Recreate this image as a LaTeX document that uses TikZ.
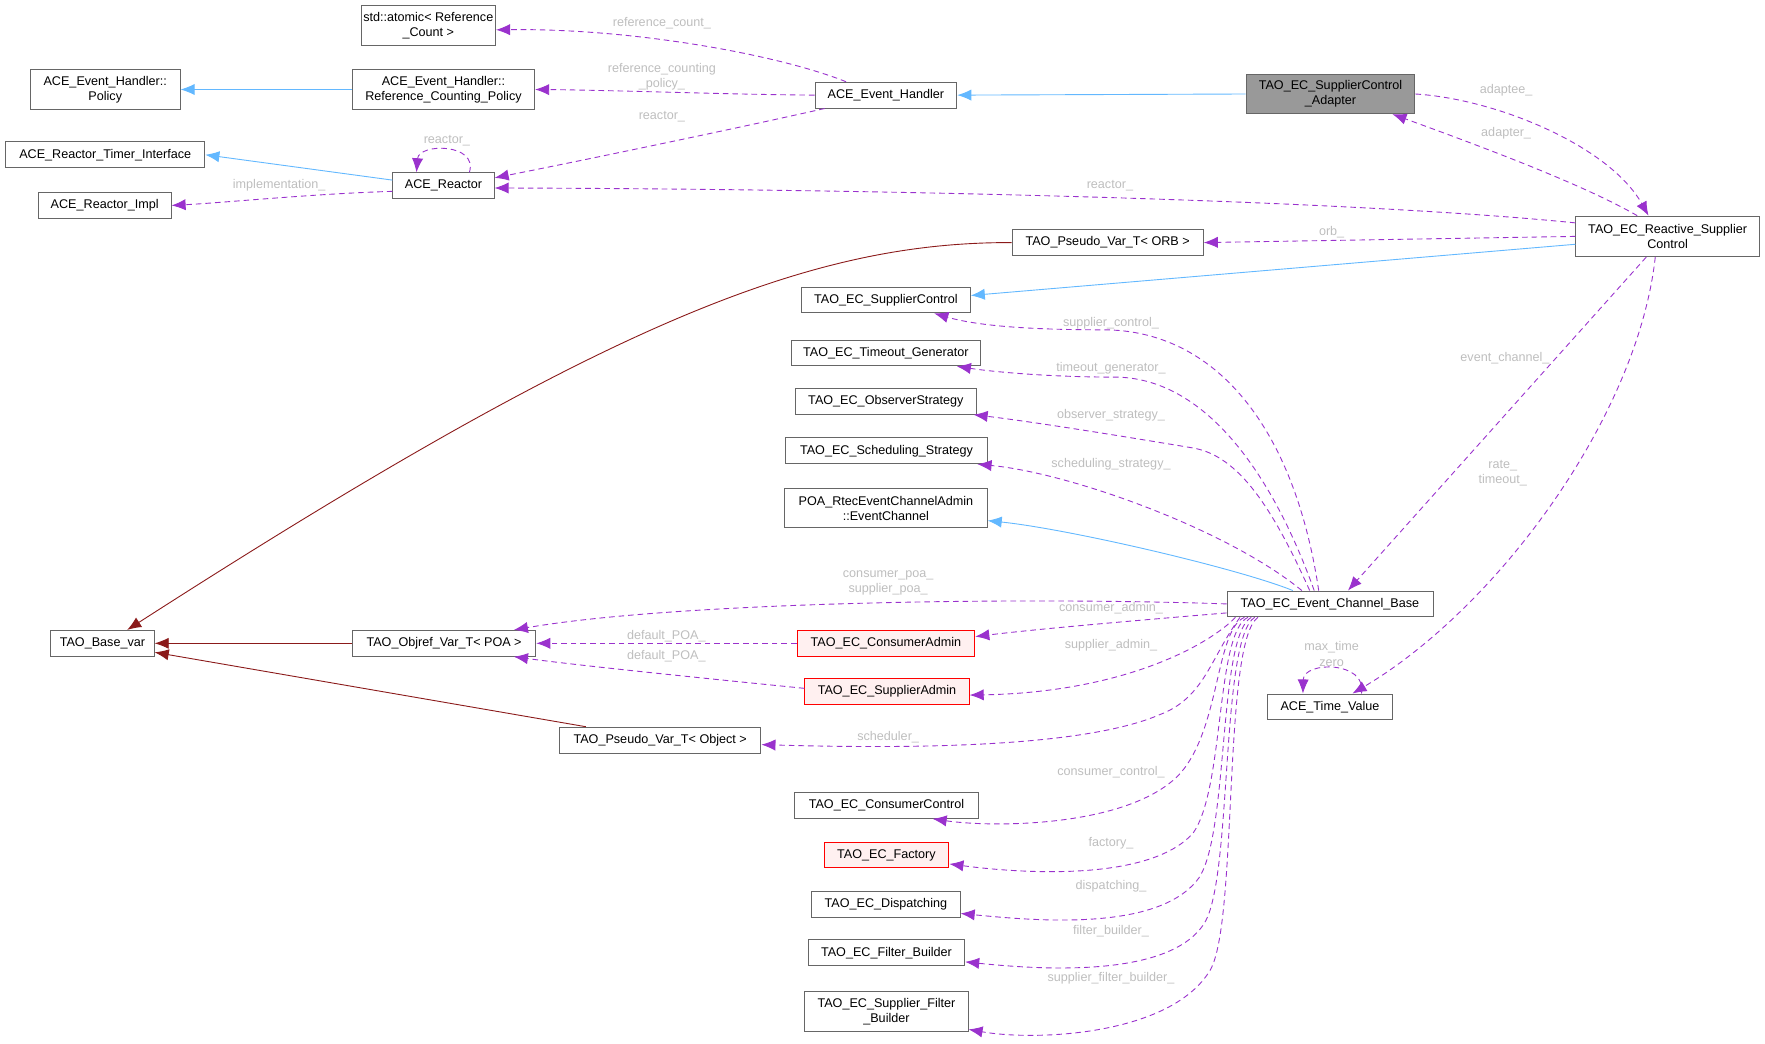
\documentclass[tikz,border=0pt]{standalone}
\usepackage{fontspec}
\setmainfont{Liberation Sans}
\usepackage{tikz}
\usetikzlibrary{arrows.meta}

\definecolor{inhblue}{RGB}{99,184,255}
\definecolor{usepurple}{RGB}{154,50,205}
\definecolor{tmplred}{RGB}{139,26,26}
\definecolor{boxgray}{RGB}{102,102,102}
\definecolor{lblgray}{RGB}{190,190,190}
\definecolor{hotfill}{RGB}{153,153,153}
\definecolor{redfill}{RGB}{255,240,240}

\begin{document}
\begin{tikzpicture}[x=1pt,y=-1pt,->,>={Latex[length=12.5pt,width=10pt]},line width=0.8pt,
    font=\fontsize{11.2}{13.5}\selectfont]
    \tikzstyle{cls}=[draw=boxgray, fill=white, rectangle, align=center, inner sep=2pt, minimum height=23pt]
    \tikzstyle{redcls}=[cls, draw=red, fill=redfill]
    \tikzstyle{inherit}=[draw=inhblue]
    \tikzstyle{tmpl}=[draw=tmplred]
    \tikzstyle{member}=[draw=usepurple, dash pattern=on 5pt off 3.5pt]
    \tikzstyle{lbl}=[text=lblgray, align=center, inner sep=1pt]
    \useasboundingbox (0,0) rectangle (1568,927);

    % classes
    \node[cls, minimum width=113pt, minimum height=35pt] (atomic) at (380.5,22.5) {std::atomic< Reference\\\_Count >};
    \node[cls, minimum width=133pt, minimum height=35pt] (policy) at (93.5,79.5) {ACE\_Event\_Handler::\\Policy};
    \node[cls, minimum width=162pt, minimum height=35pt] (rcpolicy) at (394,79.5) {ACE\_Event\_Handler::\\Reference\_Counting\_Policy};
    \node[cls, minimum width=177pt] (timer) at (93.5,137.5) {ACE\_Reactor\_Timer\_Interface};
    \node[cls, minimum width=90pt] (reactor) at (394,165) {ACE\_Reactor};
    \node[cls, minimum width=118pt] (impl) at (93,182.5) {ACE\_Reactor\_Impl};
    \node[cls, minimum width=126pt] (handler) at (787,84.5) {ACE\_Event\_Handler};
    \node[cls, fill=hotfill, minimum width=150pt, minimum height=35pt] (adapter) at (1182,83.5) {TAO\_EC\_SupplierControl\\\_Adapter};
    \node[cls, minimum width=163pt, minimum height=36pt] (reactive) at (1481.5,210) {TAO\_EC\_Reactive\_Supplier\\Control};
    \node[cls, minimum width=170pt] (orb) at (984,215.5) {TAO\_Pseudo\_Var\_T< ORB >};
    \node[cls, minimum width=150pt] (supctl) at (787,266.5) {TAO\_EC\_SupplierControl};
    \node[cls, minimum width=168pt] (timeout) at (787,313.5) {TAO\_EC\_Timeout\_Generator};
    \node[cls, minimum width=161pt] (observer) at (787,356.5) {TAO\_EC\_ObserverStrategy};
    \node[cls, minimum width=179pt] (sched) at (787.5,400.5) {TAO\_EC\_Scheduling\_Strategy};
    \node[cls, minimum width=180pt, minimum height=35pt] (poa) at (787,451.5) {POA\_RtecEventChannelAdmin\\::EventChannel};
    \node[cls, minimum width=183pt] (ecbase) at (1181.5,536.5) {TAO\_EC\_Event\_Channel\_Base};
    \node[cls, minimum width=92pt] (basevar) at (91,571.5) {TAO\_Base\_var};
    \node[cls, minimum width=163pt] (objref) at (394.5,571.5) {TAO\_Objref\_Var\_T< POA >};
    \node[redcls, minimum width=158pt] (cadmin) at (787,571.5) {TAO\_EC\_ConsumerAdmin};
    \node[redcls, minimum width=146pt] (sadmin) at (788,614.5) {TAO\_EC\_SupplierAdmin};
    \node[cls, minimum width=179pt] (pseudoobj) at (586.5,657.5) {TAO\_Pseudo\_Var\_T< Object >};
    \node[cls, minimum width=111pt] (timevalue) at (1181.5,628) {ACE\_Time\_Value};
    \node[cls, minimum width=163pt] (cctl) at (787.5,715.5) {TAO\_EC\_ConsumerControl};
    \node[redcls, minimum width=111pt] (factory) at (787.5,759.5) {TAO\_EC\_Factory};
    \node[cls, minimum width=132pt] (dispatch) at (787,803.5) {TAO\_EC\_Dispatching};
    \node[cls, minimum width=139pt] (filter) at (787.5,846.5) {TAO\_EC\_Filter\_Builder};
    \node[cls, minimum width=145pt, minimum height=35pt] (sfilter) at (787.5,898.5) {TAO\_EC\_Supplier\_Filter\\\_Builder};

    % inheritance
    \draw[inherit] (rcpolicy) -- (policy);
    \draw[inherit] ([yshift=5pt]reactor.west) -- (timer.east);
    \draw[inherit] (adapter.west) -- (handler.east);
    \draw[inherit] ([yshift=-7pt]reactive.west) -- ([yshift=4pt]supctl.east);
    \draw[inherit] ([xshift=-33pt]ecbase.north) .. controls (1100,505) and (950,470) .. ([yshift=-11pt]poa.east);

    % template instances
    \draw[tmpl] (orb.west) .. controls (720,215) and (540,285) .. ([xshift=22pt]basevar.north);
    \draw[tmpl] (objref) -- (basevar);
    \draw[tmpl] ([xshift=-66pt]pseudoobj.north) -- ([yshift=-8pt]basevar.east);

    % members
    \draw[member] ([xshift=28pt]handler.north west) .. controls (690,48) and (560,25) .. ([yshift=-4pt]atomic.east);
    \draw[member] (handler.west) .. controls (650,84) and (540,80) .. (rcpolicy.east);
    \draw[member] ([xshift=9pt]handler.south west) .. controls (650,115) and (520,142) .. ([yshift=7pt]reactor.east);
    \draw[member] ([xshift=23pt]reactor.north) .. controls (425,127) and (372,127) .. ([xshift=-24pt]reactor.north);
    \draw[member] ([yshift=-5pt]reactor.west) .. controls (280,172) and (200,180) .. (impl.east);
    \draw[member] ([yshift=12pt]reactive.west) .. controls (1200,178) and (800,168) .. ([yshift=-2pt]reactor.east);
    \draw[member] (reactive.west) -- (orb.east);
    \draw[member] (adapter.east) .. controls (1330,88) and (1430,130) .. ([xshift=-17pt]reactive.north);
    \draw[member] ([xshift=-27pt]reactive.north) .. controls (1405,163) and (1310,128) .. ([xshift=55pt]adapter.south);
    \draw[member] ([xshift=-19pt]reactive.south) -- ([xshift=16pt]ecbase.north);
    \draw[member] ([xshift=-11pt]reactive.south) .. controls (1455,370) and (1330,540) .. ([xshift=20pt]timevalue.north);
    \draw[member] ([xshift=28pt]timevalue.north) .. controls (1215,587) and (1158,587) .. ([xshift=-24pt]timevalue.north);

    \draw[member] ([xshift=-10pt]ecbase.north) .. controls (1150,380) and (1080,293) .. (980,293) .. controls (920,293) and (870,290) .. ([xshift=43pt]supctl.south);
    \draw[member] ([xshift=-14pt]ecbase.north) .. controls (1130,420) and (1070,335) .. (990,335) .. controls (930,335) and (880,330) .. ([xshift=63pt]timeout.south);
    \draw[member] ([xshift=-18pt]ecbase.north) .. controls (1130,450) and (1100,405) .. (1060,398) .. controls (1000,388) and (920,375) .. ([xshift=-3pt]observer.south east);
    \draw[member] ([xshift=-25pt]ecbase.north) .. controls (1090,470) and (950,420) .. ([xshift=-9pt]sched.south east);
    \draw[member] (ecbase.west) .. controls (900,530) and (600,535) .. ([xshift=62pt]objref.north);
    \draw[member] ([yshift=-8pt]ecbase.west) .. controls (1000,552) and (920,559) .. ([yshift=6pt]cadmin.east);
    \draw[member] (cadmin) -- (objref);
    \draw[member] ([yshift=3pt]sadmin.west) .. controls (650,605) and (520,592) .. ([xshift=62pt]objref.south);
    \draw[member] ([xshift=8pt]ecbase.south west) .. controls (1075,572) and (1000,615) .. ([yshift=-3pt]sadmin.east);
    \draw[member] ([xshift=12pt]ecbase.south west) .. controls (1075,585) and (1070,620) .. (1030,635) .. controls (960,665) and (800,665) .. ([yshift=-4pt]pseudoobj.east);
    \draw[member] ([xshift=16pt]ecbase.south west) .. controls (1078,560) and (1085,660) .. (1040,695) .. controls (990,735) and (880,735) .. ([xshift=41pt]cctl.south);
    \draw[member] ([xshift=19pt]ecbase.south west) .. controls (1080,562) and (1088,700) .. (1060,740) .. controls (1020,785) and (900,775) .. ([yshift=-8pt]factory.east);
    \draw[member] ([xshift=22pt]ecbase.south west) .. controls (1082,565) and (1092,740) .. (1065,780) .. controls (1030,828) and (920,818) .. ([yshift=-8pt]dispatch.east);
    \draw[member] ([xshift=25pt]ecbase.south west) .. controls (1084,568) and (1095,780) .. (1070,820) .. controls (1040,868) and (930,862) .. ([yshift=-8pt]filter.east);
    \draw[member] ([xshift=28pt]ecbase.south west) .. controls (1086,570) and (1100,820) .. (1075,862) .. controls (1040,920) and (920,925) .. ([yshift=-16pt]sfilter.east);

    % member labels
    \node[lbl] (lrefcount) at (588,21) {reference\_count\_};
    \node[lbl] (lrcpolicy) at (588,68) {reference\_counting\\\_policy\_};
    \node[lbl] (lreactora) at (588,104) {reactor\_};
    \node[lbl] (lreactorb) at (397,125) {reactor\_};
    \node[lbl] (limpl) at (248,165) {implementation\_};
    \node[lbl] (lreactorc) at (986,165) {reactor\_};
    \node[lbl] (lorb) at (1183,206) {orb\_};
    \node[lbl] (ladaptee) at (1338,80) {adaptee\_};
    \node[lbl] (ladapter) at (1338,118) {adapter\_};
    \node[lbl] (lchannel) at (1337,318) {event\_channel\_};
    \node[lbl] (lrate) at (1335,420) {rate\_\\timeout\_};
    \node[lbl] (lmaxtime) at (1183,581) {max\_time\\zero};
    \node[lbl] (lsupctl) at (987,287) {supplier\_control\_};
    \node[lbl] (ltimeout) at (987,327) {timeout\_generator\_};
    \node[lbl] (lobserver) at (987,369) {observer\_strategy\_};
    \node[lbl] (lsched) at (987,412) {scheduling\_strategy\_};
    \node[lbl] (lpoa) at (789,518) {consumer\_poa\_\\supplier\_poa\_};
    \node[lbl] (lcadmin) at (987,540) {consumer\_admin\_};
    \node[lbl] (ldefpoaa) at (592,565) {default\_POA\_};
    \node[lbl] (ldefpoab) at (592,583) {default\_POA\_};
    \node[lbl] (lsadmin) at (987,573) {supplier\_admin\_};
    \node[lbl] (lscheduler) at (789,655) {scheduler\_};
    \node[lbl] (lcctl) at (987,686) {consumer\_control\_};
    \node[lbl] (lfactory) at (987,749) {factory\_};
    \node[lbl] (ldispatch) at (987,787) {dispatching\_};
    \node[lbl] (lfilter) at (987,827) {filter\_builder\_};
    \node[lbl] (lsfilter) at (987,869) {supplier\_filter\_builder\_};
\end{tikzpicture}
\end{document}
